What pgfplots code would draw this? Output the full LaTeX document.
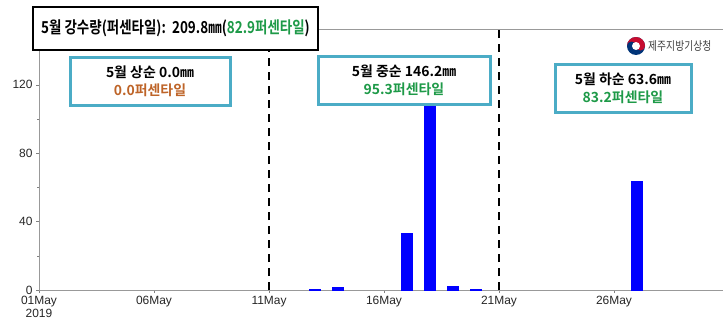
\documentclass[border=0pt]{standalone}
\usepackage{pgfplots}
\pgfplotsset{compat=1.18}
\usepackage{fontspec}
\setmainfont{Liberation Sans}
\newfontfamily\kr{Noto Sans CJK KR}[BoldFont={* Bold}]
\newfontfamily\krn{Noto Sans CJK KR}[BoldFont={* Bold}, FakeStretch=0.82]
\definecolor{pctgreen}{RGB}{30,154,72}
\definecolor{pctbrown}{RGB}{190,100,40}
\definecolor{boxteal}{RGB}{75,172,198}
\definecolor{logored}{RGB}{198,12,48}
\definecolor{logoblue}{RGB}{0,52,120}
\begin{document}
\begin{tikzpicture}[x=1bp,y=1bp]
\useasboundingbox (0,0) rectangle (723,328);
\begin{axis}[
  at={(39bp,38bp)}, anchor=south west, scale only axis,
  width=694.6bp, height=260bp,
  xmin=1, xmax=31.2, ymin=0, ymax=152,
  xtick={1,6,11,16,21,26},
  xticklabels={{01May\\2019},06May,11May,16May,21May,26May},
  x tick label style={align=center, font=\fontsize{12}{13}\selectfont, text=black!85},
  ytick={0,40,80,120}, minor ytick={20,60,100,140},
  y tick label style={font=\fontsize{12}{13}\selectfont, text=black!85},
  /pgf/number format/assume math mode=true,
  tick align=outside, major tick length=3bp, minor tick length=2bp,
  xtick pos=left, ytick pos=left,
  tick style={gray, thin},
  axis line style={gray!80, line width=1bp},
]
\addplot[ybar, bar width=11bp, bar shift=0pt, fill=blue, draw=blue] coordinates {(13,0.3) (14,1.5) (17,33.0) (18,109.0) (19,2.0) (20,0.4) (27,63.6)};
\addplot[black, line width=1.8bp, dash pattern=on 8bp off 6bp] coordinates {(11,0) (11,152)};
\addplot[black, line width=1.8bp, dash pattern=on 8bp off 6bp] coordinates {(21,0) (21,152)};
\end{axis}
% title box
\node[draw=black, line width=1.6bp, fill=white, minimum width=285bp, minimum height=43bp, inner sep=0pt,
  font=\krn\bfseries\fontsize{16.5}{18}\selectfont] at (175.5,299.5)
  {5월 강수량(퍼센타일):\ \ 209.8㎜(\textcolor{pctgreen}{82.9퍼센타일})};
% info boxes
\tikzset{infobox/.style={draw=boxteal, line width=3bp, fill=white, minimum height=48bp, inner sep=2pt, align=center,
  font=\kr\bfseries\fontsize{14}{18}\selectfont}}
\node[infobox, minimum width=160bp] at (150,247)
  {5월 상순 0.0㎜\\\textcolor{pctbrown}{0.0퍼센타일}};
\node[infobox, minimum width=172bp] at (404,248)
  {5월 중순 146.2㎜\\\textcolor{pctgreen}{95.3퍼센타일}};
\node[infobox, minimum width=136bp] at (623,240)
  {5월 하순 63.6㎜\\\textcolor{pctgreen}{83.2퍼센타일}};
% logo
\fill[logoblue] (636,282) circle (9);
\fill[logored] (627,282) arc (180:0:9) -- cycle;
\fill[logoblue] (631.5,282) circle (4.5);
\fill[logored] (640.5,282) circle (4.5);
\fill[white] (636,282) circle (4);
\node[anchor=west, inner sep=0pt, text=black!75, font=\krn\fontsize{12}{13}\selectfont] at (648,282) {제주지방기상청};
\end{tikzpicture}
\end{document}
